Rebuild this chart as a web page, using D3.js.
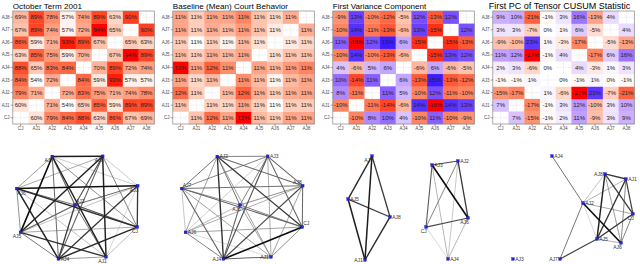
<!DOCTYPE html>
<html><head><meta charset="utf-8">
<script src="https://cdn.jsdelivr.net/npm/d3@7"></script>
<style>body{margin:0;background:#fff;} svg{display:block;font-family:"Liberation Sans",Arial,sans-serif;}</style>
</head><body><svg id="c" width="640" height="264"></svg>
<script>
const judges = ["CJ","AJ1","AJ2","AJ3","AJ4","AJ5","AJ6","AJ7","AJ8"];
const titles = ["October Term 2001","Baseline (Mean) Court Behavior","First Variance Component","First PC of Tensor CUSUM Statistic"];

// rows/cols in judge order CJ..AJ8 (percent)
const termAgree = [
 [null,60,79,84,88,63,86,67,69],
 [60,null,71,54,65,85,59,89,89],
 [79,71,null,72,83,75,71,74,78],
 [84,54,72,null,84,59,93,57,57],
 [88,65,83,84,null,70,89,72,74],
 [63,85,75,59,70,null,67,94,89],
 [86,59,71,93,89,67,null,65,63],
 [67,89,74,57,72,94,65,null,90],
 [69,89,78,57,74,89,63,90,null]];
const baseline = [
 [null,11.21,11.56,11.34,11.78,11.25,11.16,11.34,11.34],
 [11.21,null,11.16,11.12,11.34,11.16,10.94,11.16,11.16],
 [11.56,11.16,null,11.25,11.60,11.30,11.16,11.30,11.34],
 [11.34,11.12,11.25,null,11.43,11.25,10.99,11.25,11.34],
 [11.78,11.34,11.60,11.43,null,11.34,11.25,11.38,11.47],
 [11.25,11.16,11.30,11.25,11.34,null,11.08,11.21,11.21],
 [11.16,10.94,11.16,10.99,11.25,11.08,null,11.03,11.12],
 [11.34,11.16,11.30,11.25,11.38,11.21,11.03,null,11.30],
 [11.34,11.16,11.34,11.34,11.47,11.21,11.12,11.30,null]];
const variance = [
 [null,-10,8,10,4,-10,11,-10,-9],
 [-10,null,-11,-14,-6,14,-16,14,13],
 [8,-11,null,11,5,-10,12,-11,-10],
 [10,-14,11,null,6,-13,15,-13,-12],
 [4,-6,5,6,null,-6,6,-6,-5],
 [-10,14,-10,-13,-6,null,-15,13,12],
 [11,-16,12,15,6,-15,null,-15,-13],
 [-10,14,-11,-13,-6,13,-15,null,12],
 [-9,13,-10,-12,-5,12,-13,12,null]];
const cusum = [
 [null,7,-15,-1,2,11,-9,3,9],
 [7,null,-17,-1,3,12,-10,3,10],
 [-15,-17,null,1,-6,-27,23,-7,-21],
 [-1,-1,1,null,0,-1,1,0,-1],
 [2,3,-6,0,null,4,-3,1,3],
 [11,12,-27,-1,4,null,-17,6,16],
 [-9,-10,23,1,-3,-17,null,-5,-13],
 [3,3,-7,0,1,6,-5,null,4],
 [9,10,-21,-1,3,16,-13,4,null]];

// network layouts (layout units 0-100), judge order CJ..AJ8
const layoutTerm = [[90.9,68.8],[68.6,95.5],[46.4,49.1],[91.2,31.9],[34.6,97.3],[7.5,73.5],[4.8,34.4],[30.2,5.8],[66.2,5.6]];
const layoutBase = [[90.9,68.8],[68.6,95.5],[30.2,5.8],[66.2,5.6],[34.6,97.3],[46.4,49.1],[7.5,73.5],[4.8,34.4],[91.2,31.9]];
const layoutVar  = [[68.6,68.8],[25,98.2],[91.4,9.8],[72.9,13.4],[84.3,97.3],[12.9,43.8],[98.6,60.7],[30,5.4],[42.9,59.8]];
const layoutCus  = [[102.1,57.1],[97.1,25.9],[66.4,47.3],[16.4,97.3],[44.3,5.4],[76.4,79.5],[93.6,83],[50,97.3],[82.1,21.4]];
// label side per node
const labTerm = ["bl","bl","ar","bl","r","bl","br","bl","bl"];
const labBase = ["ar","l","r","r","l","bl","r","ar","al"];
const labVar  = ["bl","l","r","r","r","r","bl","bl","r"];
const labCus  = ["bl","r","r","r","r","r","bl","l","l"];

const svg = d3.select("#c");
const pct = v => (Math.round(v) < 0 ? "-" + Math.abs(Math.round(v)) : Math.round(v)) + "%";

function extent(m){ const a=[]; m.forEach(r=>r.forEach(v=>{ if(v!==null) a.push(v);})); return d3.extent(a); }
const seq = m => { const e=extent(m); return d3.scaleLinear().domain(e).range(["white","red"]).interpolate(d3.interpolateLab); };
const div = m => { const e=extent(m); const L=Math.max(-e[0],e[1]); return d3.scaleLinear().domain([-L,0,L]).range(["red","white","blue"]).interpolate(d3.interpolateLab); };

const panels = [
 {m: termAgree, col: seq(termAgree), layout: layoutTerm, lab: labTerm, nx: 0,   filter: v=>true, wdom: extent(termAgree), tshift:0},
 {m: baseline,  col: seq(baseline),  layout: layoutBase, lab: labBase, nx: 165, filter: v=>true, wdom: extent(baseline), tshift:0},
 {m: variance,  col: div(variance),  layout: layoutVar,  lab: labVar,  nx: 320, filter: v=>v>0, wdom: [4,15], tshift:0},
 {m: cusum,     col: div(cusum),     layout: layoutCus,  lab: labCus,  nx: 480, filter: v=>Math.abs(v)>=6, wdom: extent(cusum), tshift:-4}
];

panels.forEach((p,k)=>{
  const left = 12.8 + 160*k, width = 141.5, top = 11, bottom = 124;
  const g = svg.append("g");
  const x = d3.scaleBand().domain(judges).range([left, left+width]);
  const y = d3.scaleBand().domain(judges.slice().reverse()).range([top, bottom]);
  g.append("text").attr("x", left + p.tshift).attr("y", 8.8).attr("font-size", k===3?9:8.1).attr("fill","#000").text(titles[k]);
  g.selectAll(".gx").data(judges).enter().append("line")
    .attr("x1", d=>x(d)+x.bandwidth()/2).attr("x2", d=>x(d)+x.bandwidth()/2).attr("y1",top).attr("y2",bottom)
    .attr("stroke","#e6e6e6").attr("stroke-width",0.5);
  g.selectAll(".gy").data(judges).enter().append("line")
    .attr("y1", d=>y(d)+y.bandwidth()/2).attr("y2", d=>y(d)+y.bandwidth()/2).attr("x1",left).attr("x2",left+width)
    .attr("stroke","#e6e6e6").attr("stroke-width",0.5);
  const cells = [];
  p.m.forEach((row,i)=>row.forEach((v,j)=>{ if(v!==null) cells.push({r:judges[i], c:judges[j], v}); }));
  g.selectAll(".cell").data(cells).enter().append("rect")
    .attr("x", d=>x(d.c)).attr("y", d=>y(d.r)).attr("width", x.bandwidth()+0.3).attr("height", y.bandwidth()+0.3)
    .attr("fill", d=>p.col(d.v));
  g.selectAll(".lbl").data(cells).enter().append("text")
    .attr("x", d=>x(d.c)+x.bandwidth()/2).attr("y", d=>y(d.r)+y.bandwidth()/2+2.1)
    .attr("text-anchor","middle").attr("font-size",6).attr("fill","#222").text(d=>pct(d.v));
  g.append("rect").attr("x",left).attr("y",top).attr("width",width).attr("height",bottom-top)
    .attr("fill","none").attr("stroke","#888").attr("stroke-width",0.7);
  const ax = g.append("g").attr("transform",`translate(${left},0)`).call(d3.axisLeft(y).tickSize(2.2).tickPadding(1));
  const bx = g.append("g").attr("transform",`translate(0,${bottom})`).call(d3.axisBottom(x).tickSize(2.2).tickPadding(1));
  [ax,bx].forEach(a=>{ a.select(".domain").remove(); a.selectAll("text").attr("font-size",4.6).attr("fill","#4d4d4d").attr("font-family","Liberation Sans, Arial, sans-serif");
    a.selectAll("line").attr("stroke","#4d4d4d").attr("stroke-width",0.5); });

  const nxs = d3.scaleLinear().domain([0,100]).range([p.nx+10, p.nx+150]);
  const nys = d3.scaleLinear().domain([0,100]).range([150, 262]);
  const edges = [];
  for(let i=0;i<9;i++) for(let j=i+1;j<9;j++){ const v=p.m[i][j]; if(p.filter(v)) edges.push({i,j,v}); }
  const wS = d3.scaleLinear().domain(p.wdom).range([0.5,1.6]).clamp(true);
  const cS = d3.scaleLinear().domain(p.wdom).range(["#b4b4b4","#0d0d0d"]).clamp(true);
  edges.sort((a,b)=>a.v-b.v);
  const ng = svg.append("g");
  ng.selectAll("line").data(edges).enter().append("line")
    .attr("x1", d=>nxs(p.layout[d.i][0])).attr("y1", d=>nys(p.layout[d.i][1]))
    .attr("x2", d=>nxs(p.layout[d.j][0])).attr("y2", d=>nys(p.layout[d.j][1]))
    .attr("stroke", d=>cS(d.v)).attr("stroke-width", d=>wS(d.v));
  const off = {l:[-2.2,1.8,"end"], r:[2.2,1.8,"start"], bl:[0.8,6,"end"], br:[0.5,6,"start"], al:[-1,-2,"end"], ar:[1,-2,"start"]};
  judges.forEach((jn,i)=>{
    const cx=nxs(p.layout[i][0]), cy=nys(p.layout[i][1]);
    ng.append("rect").attr("x",cx-1.4).attr("y",cy-1.4).attr("width",2.8).attr("height",2.8).attr("fill","#2222ee").attr("stroke","#10107a").attr("stroke-width",0.3);
    const o = off[p.lab[i]];
    ng.append("text").attr("x",cx+o[0]).attr("y",cy+o[1]).attr("text-anchor",o[2]).attr("font-size",5).attr("fill","#333").text(jn);
  });
});
</script></body></html>
